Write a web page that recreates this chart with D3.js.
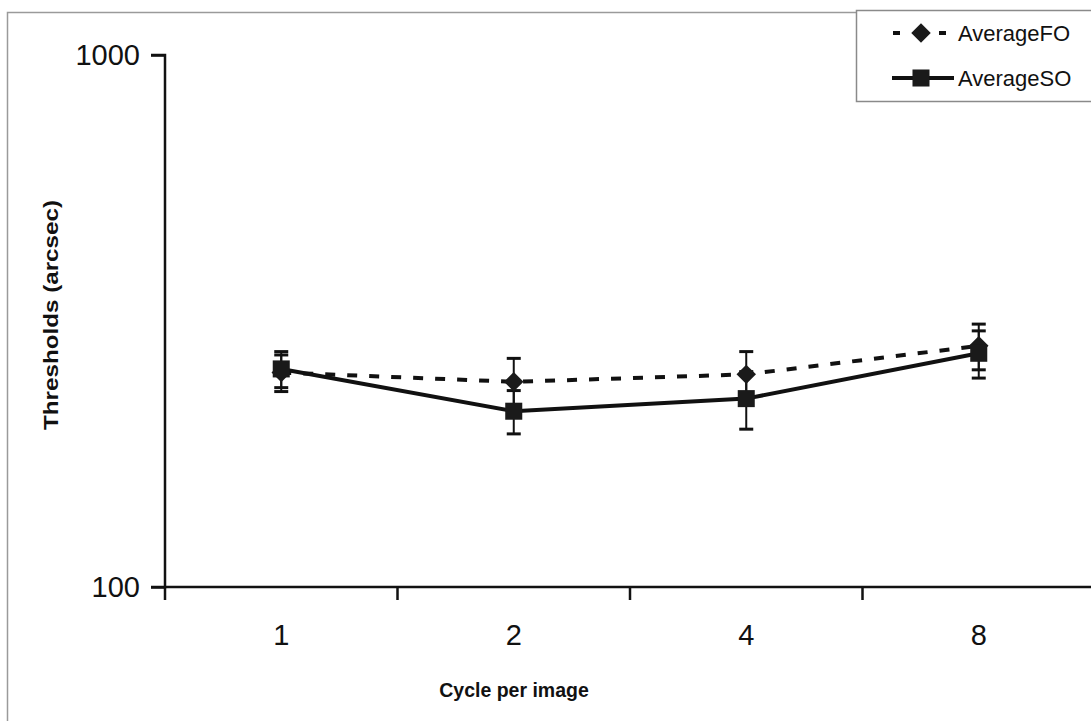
<!DOCTYPE html>
<html>
<head>
<meta charset="utf-8">
<script src="https://cdn.jsdelivr.net/npm/d3@7"></script>
<style>
  body { margin: 0; background: #fff; }
  svg { display: block; font-family: "Liberation Sans", Arial, sans-serif; }
</style>
</head>
<body>
<main></main>
<script>
const categories = ["1", "2", "4", "8"];
const averageFO = [253, 243, 251, 284];
const errorFO = [20, 26, 26, 28];
const averageSO = [257, 214, 226, 275];
const errorSO = [20, 20, 28, 28];
const yTicks = [100, 1000];

window.onload = () => {
    const width = 1091, height = 721;
    const svg = d3.select("main").append("svg").attr("width", width).attr("height", height);

    // outer frame, gray
    svg.append("path")
        .attr("d", "M7.5," + height + "V12.5H" + width)
        .attr("fill", "none")
        .attr("stroke", "#9a9a9a")
        .attr("stroke-width", 1.5);

    const x = d3.scaleBand().domain(categories).range([165, 1095]);
    const y = d3.scaleLog().domain([100, 1000]).range([587, 55]);

    // axes
    const yAxis = svg.append("g")
        .attr("transform", "translate(165,0)")
        .call(d3.axisLeft(y).tickValues(yTicks).tickFormat(d3.format("d")).tickSize(14).tickPadding(11));
    const xAxis = svg.append("g")
        .attr("transform", "translate(0,587)")
        .call(d3.axisBottom(x).tickSize(0).tickPadding(37));

    [yAxis, xAxis].forEach(g => {
        g.select(".domain").attr("stroke", "#111").attr("stroke-width", 2.5);
        g.selectAll(".tick line").attr("stroke", "#111").attr("stroke-width", 2.5);
        g.selectAll("text").attr("fill", "#111").style("font-size", "29px").style("font-family", "Liberation Sans, Arial, sans-serif");
    });
    yAxis.select(".domain").attr("d", "M-14,55H0V587H-14");
    yAxis.selectAll(".tick line").attr("x2", -14);
    xAxis.select(".domain").attr("d", "M165,0H1091");

    // category boundary ticks
    xAxis.selectAll(".sep")
        .data(categories.slice(1))
        .join("line")
        .attr("x1", d => x(d)).attr("x2", d => x(d))
        .attr("y1", 0).attr("y2", 13)
        .attr("stroke", "#111").attr("stroke-width", 2.5);
    xAxis.append("line")
        .attr("x1", 165).attr("x2", 165).attr("y1", 0).attr("y2", 13)
        .attr("stroke", "#111").attr("stroke-width", 2.5);

    // axis titles
    svg.append("text")
        .attr("transform", "translate(58,315) rotate(-90)")
        .attr("text-anchor", "middle")
        .attr("textLength", 230)
        .attr("lengthAdjust", "spacingAndGlyphs")
        .style("font-size", "21px").style("font-weight", "bold")
        .attr("fill", "#111")
        .text("Thresholds (arcsec)");
    svg.append("text")
        .attr("x", 514).attr("y", 697)
        .attr("text-anchor", "middle")
        .style("font-size", "19.5px").style("font-weight", "bold")
        .attr("fill", "#111")
        .text("Cycle per image");

    const cx = c => x(c) + x.bandwidth() / 2;
    const line = d3.line().x((d, i) => cx(categories[i])).y(d => y(d));

    const series = [
        { values: averageFO, errors: errorFO, dash: "10,12", symbol: d3.symbolSquare, size: 190, rotate: 45 },
        { values: averageSO, errors: errorSO, dash: null, symbol: d3.symbolSquare, size: 290, rotate: 0 },
    ];

    series.forEach(s => {
        // error bars
        const eb = svg.append("g").attr("stroke", "#111").attr("stroke-width", 2);
        s.values.forEach((v, i) => {
            const px = cx(categories[i]);
            const hi = y(v + s.errors[i]), lo = y(v - s.errors[i]);
            eb.append("line").attr("x1", px).attr("x2", px).attr("y1", hi).attr("y2", lo);
            eb.append("line").attr("x1", px - 7).attr("x2", px + 7).attr("y1", hi).attr("y2", hi).attr("stroke-width", 3);
            eb.append("line").attr("x1", px - 7).attr("x2", px + 7).attr("y1", lo).attr("y2", lo).attr("stroke-width", 3);
        });
    });

    series.forEach(s => {
        svg.append("path")
            .datum(s.values)
            .attr("d", line)
            .attr("fill", "none")
            .attr("stroke", "#111")
            .attr("stroke-width", 4)
            .attr("stroke-dasharray", s.dash);
        svg.append("g").selectAll("path")
            .data(s.values)
            .join("path")
            .attr("transform", (d, i) => `translate(${cx(categories[i])},${y(d)}) rotate(${s.rotate})`)
            .attr("d", d3.symbol().type(s.symbol).size(s.size))
            .attr("fill", "#1a1a1a");
    });

    // legend
    const legend = svg.append("g");
    legend.append("rect")
        .attr("x", 856.5).attr("y", 10.5).attr("width", 240).attr("height", 91)
        .attr("fill", "#fff").attr("stroke", "#8a8a8a").attr("stroke-width", 1.5);
    const items = [
        { name: "AverageFO", y: 33, s: series[0] },
        { name: "AverageSO", y: 78, s: series[1] },
    ];
    items.forEach(it => {
        legend.append("line")
            .attr("x1", 892).attr("x2", 954).attr("y1", it.y).attr("y2", it.y)
            .attr("stroke", "#111").attr("stroke-width", 4)
            .attr("stroke-dasharray", it.s.dash ? "7,16" : null)
            .attr("stroke-dashoffset", it.s.dash ? -1 : null);
        legend.append("path")
            .attr("transform", `translate(921,${it.y}) rotate(${it.s.rotate})`)
            .attr("d", d3.symbol().type(it.s.symbol).size(it.s.size))
            .attr("fill", "#1a1a1a");
        legend.append("text")
            .attr("x", 958).attr("y", it.y + 8)
            .style("font-size", "22px")
            .attr("fill", "#111")
            .text(it.name);
    });
};
</script>
</body>
</html>
